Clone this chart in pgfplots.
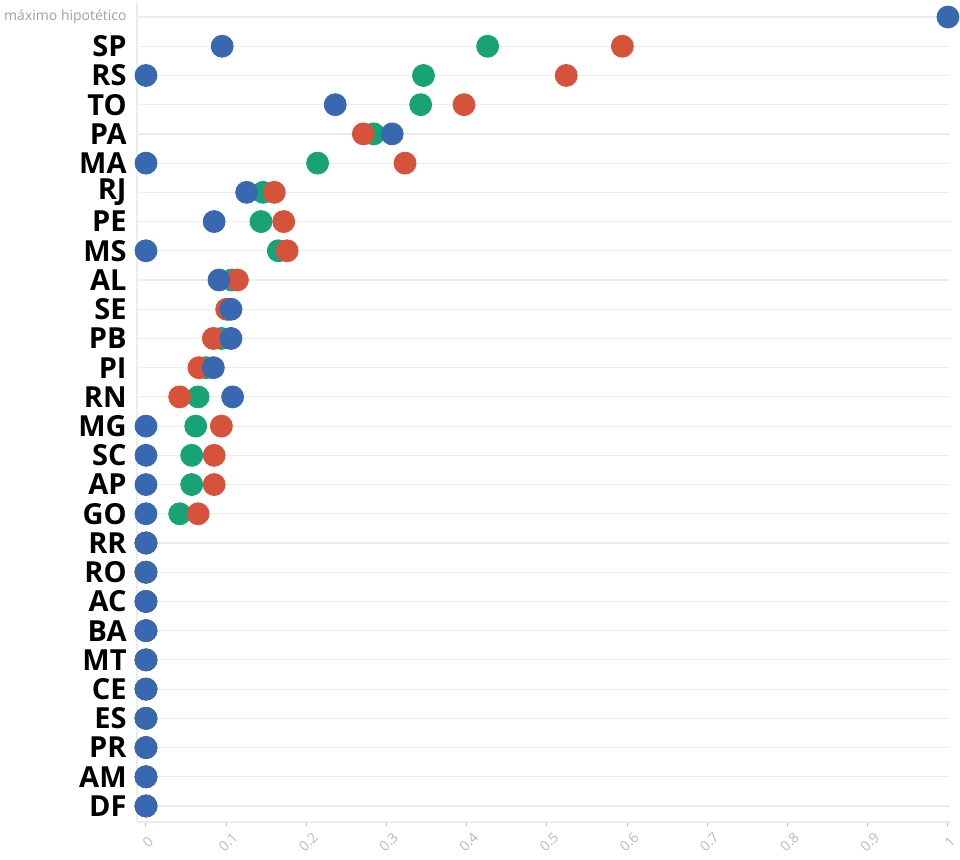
\documentclass[border=0pt]{standalone}
\usepackage{fontspec}
\setmainfont{Open Sans}
\usepackage{pgfplots}
\pgfplotsset{compat=1.18}
\definecolor{cblue}{RGB}{56,104,176}
\definecolor{cgreen}{RGB}{24,163,118}
\definecolor{cred}{RGB}{215,82,58}
\definecolor{gridc}{RGB}{236,236,236}
\definecolor{tickc}{RGB}{185,185,185}
\definecolor{maxc}{RGB}{160,160,160}
\begin{document}
\begin{tikzpicture}
\useasboundingbox (-68.5pt,-18.5pt) rectangle (411.5pt,411pt);
\begin{axis}[
  at={(0,0)}, anchor=south west,
  scale only axis, width=406.5pt, height=409.8pt,
  xmin=-0.0112, xmax=1.0025, ymin=-0.548, ymax=27.5,
  axis lines*=left, axis line style={gridc, line width=0.6pt, -},
  ymajorgrids, grid style={gridc, line width=0.6pt},
  ytick={0,...,27},
  yticklabels={DF,AM,PR,ES,CE,MT,BA,AC,RO,RR,GO,AP,SC,MG,RN,PI,PB,SE,AL,MS,PE,RJ,MA,PA,TO,RS,SP,{\fontsize{7}{8}\selectfont\mdseries\color{maxc}máximo hipotético\hspace{-3pt}}},
  yticklabel style={font=\fontsize{14.5}{16}\selectfont\bfseries, anchor=east, inner sep=0pt, xshift=-3pt},
  ytick style={draw=none},
  xtick={0,0.1,0.2,0.3,0.4,0.5,0.6,0.7,0.8,0.9,1},
  xticklabels={0,0.1,0.2,0.3,0.4,0.5,0.6,0.7,0.8,0.9,1},
  xtick pos=bottom, tick align=outside, major tick length=2pt,
  xtick style={tickc, line width=0.5pt},
  xticklabel style={yshift=-8pt, xshift=1pt, rotate=45, anchor=center, inner sep=0pt, font=\fontsize{7}{8}\selectfont, text=tickc},
  /pgf/number format/assume math mode=true,
  clip=false,
]
\addplot[cgreen, only marks, mark=*, mark size=5.5pt] coordinates {
(0.426,26) (0.346,25) (0.3425,24) (0.284,23) (0.214,22) (0.146,21) (0.1434,20) (0.165,19)
(0.107,18) (0.103,17) (0.094,16) (0.075,15) (0.065,14) (0.062,13) (0.057,12) (0.057,11) (0.042,10)
(0,9) (0,8) (0,7) (0,6) (0,5) (0,4) (0,3) (0,2) (0,1) (0,0)
};
\addplot[cred, only marks, mark=*, mark size=5.5pt] coordinates {
(0.594,26) (0.524,25) (0.3965,24) (0.271,23) (0.323,22) (0.160,21) (0.1717,20) (0.176,19)
(0.114,18) (0.1006,17) (0.084,16) (0.066,15) (0.042,14) (0.094,13) (0.085,12) (0.085,11) (0.065,10)
(0,9) (0,8) (0,7) (0,6) (0,5) (0,4) (0,3) (0,2) (0,1) (0,0)
};
\addplot[cblue, only marks, mark=*, mark size=5.5pt] coordinates {
(1,27) (0.095,26) (0,25) (0.236,24) (0.307,23) (0,22) (0.1255,21) (0.085,20) (0,19)
(0.091,18) (0.106,17) (0.106,16) (0.084,15) (0.108,14) (0,13) (0,12) (0,11) (0,10)
(0,9) (0,8) (0,7) (0,6) (0,5) (0,4) (0,3) (0,2) (0,1) (0,0)
};
\end{axis}
\end{tikzpicture}
\end{document}
